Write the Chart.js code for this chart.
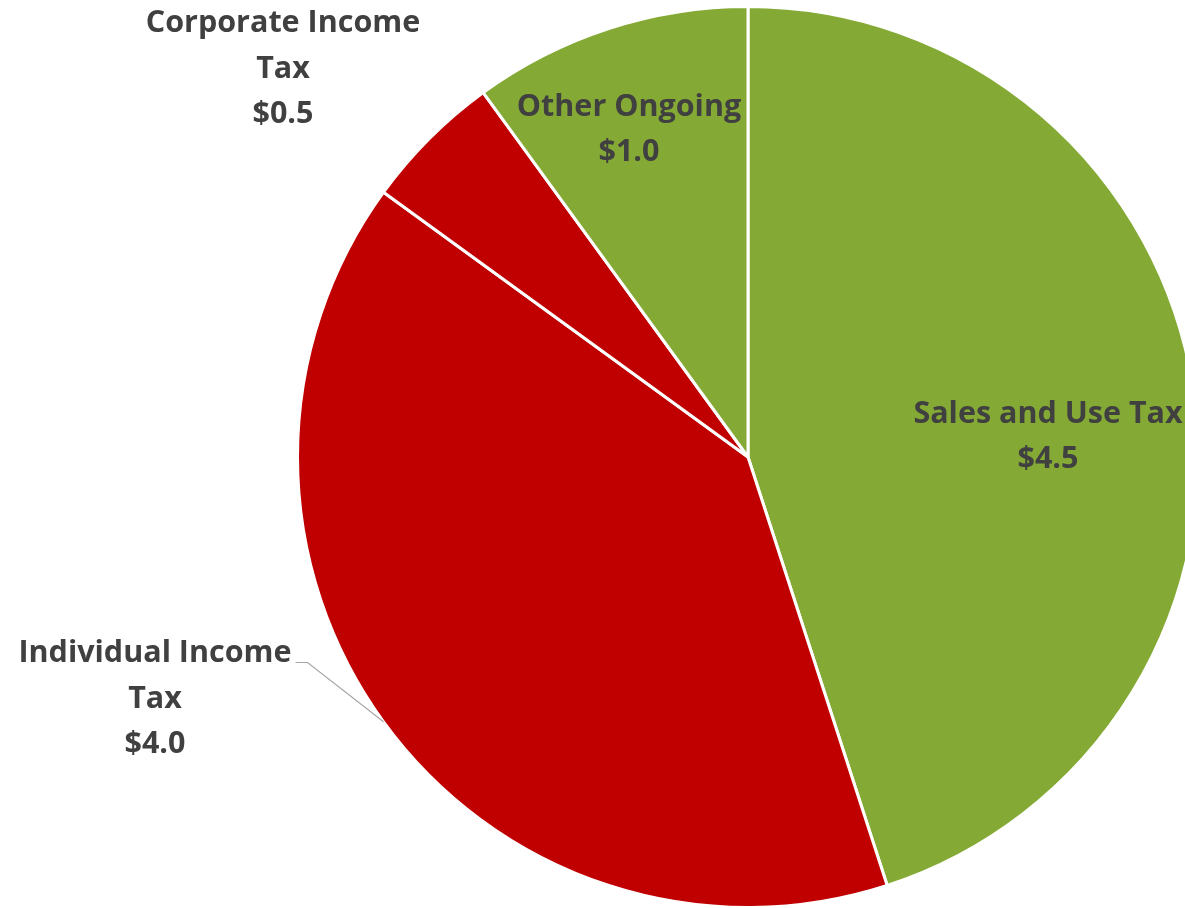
<!DOCTYPE html>
<html>
<head>
<meta charset="utf-8">
<script src="https://cdn.jsdelivr.net/npm/chart.js@4/dist/chart.umd.min.js"></script>
<style>
    html, body { margin: 0; padding: 0; background: #ffffff; overflow: hidden; }
    #wrap { position: absolute; left: 0; top: 0; width: 1496px; height: 914px; }
</style>
</head>
<body>
<div id="wrap"><canvas id="revenueChart" width="1496" height="914"></canvas></div>
<script>
// Revenue sources ($ billions)
const categories = ['Sales and Use Tax', 'Individual Income Tax', 'Corporate Income Tax', 'Other Ongoing'];
const amounts = [4.5, 4.0, 0.5, 1.0];
const sliceColors = ['#84AA35', '#C00000', '#C00000', '#84AA35'];

// Label text lines for each slice (how the original wraps them)
const labelLines = [
    ['Sales and Use Tax'],
    ['Individual Income', 'Tax'],
    ['Corporate Income', 'Tax'],
    ['Other Ongoing']
];

// Label placement relative to pie centre (px), and whether a leader line is drawn
const labelOffsets = [
    { dx: 300, dy: -20, leader: false },
    { dx: -593, dy: 242, leader: true },
    { dx: -465, dy: -388, leader: false },
    { dx: -119, dy: -327, leader: false }
];

function formatMoney(v) {
    return '$' + v.toFixed(1);
}

// Plugin that draws the data labels
const sliceLabels = {
    id: 'sliceLabels',
    afterDatasetsDraw(chart) {
        const ctx = chart.ctx;
        const meta = chart.getDatasetMeta(0);
        const lineHeight = 45.5;
        ctx.save();
        ctx.font = 'bold 30.5px "Open Sans"';
        ctx.fillStyle = '#404040';
        ctx.textAlign = 'center';
        ctx.textBaseline = 'middle';

        meta.data.forEach((arc, i) => {
            const off = labelOffsets[i];
            const lines = labelLines[i].concat([formatMoney(amounts[i])]);
            const cx = arc.x + off.dx;
            const cy = arc.y + off.dy;
            const top = cy - (lines.length - 1) * lineHeight / 2;

            lines.forEach((txt, j) => {
                ctx.fillText(txt, cx, top + j * lineHeight);
            });

            if (off.leader) {
                const mid = (arc.startAngle + arc.endAngle) / 2;
                const ex = arc.x + Math.cos(mid) * arc.outerRadius;
                const ey = arc.y + Math.sin(mid) * arc.outerRadius;
                const firstW = ctx.measureText(lines[0]).width;
                const sx = cx + firstW / 2 + 4;
                const sy = top + 9;
                ctx.beginPath();
                ctx.strokeStyle = '#A6A6A6';
                ctx.lineWidth = 1.2;
                ctx.moveTo(sx, sy);
                ctx.lineTo(sx + 12, sy);
                ctx.lineTo(ex, ey);
                ctx.stroke();
            }
        });
        ctx.restore();
    }
};

const chart = new Chart(document.getElementById('revenueChart'), {
    type: 'pie',
    data: {
        labels: categories,
        datasets: [{
            data: amounts,
            backgroundColor: sliceColors,
            borderColor: '#ffffff',
            borderWidth: 3
        }]
    },
    options: {
        responsive: false,
        devicePixelRatio: 1,
        animation: false,
        layout: { padding: { top: 5, bottom: 5, left: 0, right: 0 } },
        plugins: {
            legend: { display: false },
            tooltip: { enabled: false }
        }
    },
    plugins: [sliceLabels]
});
</script>
</body>
</html>
